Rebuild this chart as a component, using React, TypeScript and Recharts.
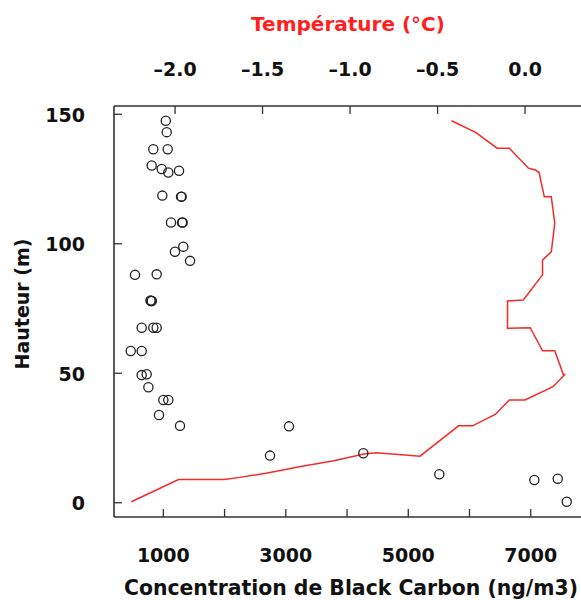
import React from 'react';
import { ScatterChart, Scatter, XAxis, YAxis } from 'recharts';

// black carbon profile (ng/m3 vs m)
const bcHeights = [
  147.5, 143.1, 136.5, 136.5, 130.2, 128.9, 127.5, 128.2, 118.6, 118.2, 118.2,
  108.2, 108.2, 108.2, 98.9, 96.9, 93.4, 88.0, 88.2, 77.9, 77.9, 78.1, 67.6, 67.6,
  67.6, 58.6, 58.6, 49.3, 49.6, 44.6, 39.7, 39.7, 33.9, 29.7, 29.5, 18.2, 19.1,
  11.0, 8.8, 9.3, 0.4,
];
const bcValues = [
  1040, 1055, 836, 1071, 810, 973, 1081, 1256, 983, 1289, 1300,
  1125, 1316, 1305, 1326, 1190, 1436, 537, 891, 799, 812, 790, 646, 836,
  891, 467, 646, 646, 728, 755, 1000, 1081, 929, 1272, 3052, 2742, 4266,
  5507, 7059, 7441, 7588,
];

// temperature profile (°C vs m)
const tempHeights = [
  0.4, 9.0, 9.0, 9.8, 11.4, 13.9, 16.1, 18.8, 19.3, 18.0, 29.7, 29.7, 34.1, 39.7,
  39.7, 44.8, 49.7, 49.3, 58.7, 58.7, 67.6, 67.4, 77.9, 78.3, 88.0, 93.7, 96.9,
  107.9, 118.2, 118.2, 127.5, 128.5, 129.2, 136.9, 136.9, 142.9, 147.5,
];
const tempValues = [
  -2.25, -1.98, -1.72, -1.63, -1.48, -1.29, -1.1, -0.92, -0.85, -0.6, -0.38, -0.3,
  -0.17, -0.09, 0.0, 0.16, 0.23, 0.22, 0.17, 0.1, 0.03, -0.1, -0.1, -0.01, 0.1,
  0.1, 0.15, 0.17, 0.15, 0.11, 0.08, 0.06, 0.02, -0.09, -0.16, -0.28, -0.42,
];

const bcTicks = [1000, 2000, 3000, 4000, 5000, 6000, 7000];
const bcLabelled = [1000, 3000, 5000, 7000];
const tempTicks = [-2, -1.5, -1, -0.5, 0];
const heightTicks = [0, 50, 100, 150];

const bcData = bcHeights.map((h, i) => ({ x: bcValues[i], y: h }));
const tempData = tempHeights.map((h, i) => ({ x: tempValues[i], y: h }));

const FONT = "'DejaVu Sans', sans-serif";
const AXIS = '#333';
const RED = '#f52a2a';

const BottomTick = (props: any) => {
  const { x, payload } = props;
  if (!bcLabelled.includes(payload.value)) return <g />;
  return (
    <text x={x} y={562} textAnchor="middle" fontFamily={FONT} fontWeight="bold" fontSize={19} fill="#111">
      {payload.value}
    </text>
  );
};

const TopTick = (props: any) => {
  const { x, payload } = props;
  const v = payload.value;
  const s = (v < 0 ? '\u2013' : '') + Math.abs(v).toFixed(1);
  return (
    <text x={x} y={76} textAnchor="middle" fontFamily={FONT} fontWeight="bold" fontSize={19} fill="#111">
      {s}
    </text>
  );
};

const LeftTick = (props: any) => {
  const { y, payload } = props;
  return (
    <text x={85} y={y + 7.5} textAnchor="end" fontFamily={FONT} fontWeight="bold" fontSize={19} fill="#111">
      {payload.value}
    </text>
  );
};

const Ring = (props: any) => (
  <circle cx={props.cx} cy={props.cy} r={4.6} fill="none" stroke="#222" strokeWidth={1.3} />
);

export default function App() {
  return (
    <div style={{ position: 'fixed', left: 0, top: 0, width: 581, height: 600, overflow: 'hidden', background: '#fff' }}>
      <ScatterChart width={620} height={600} margin={{ top: 0, right: 36, bottom: 0, left: 0 }}>
        <XAxis
          xAxisId="bc"
          type="number"
          dataKey="x"
          orientation="bottom"
          domain={[194, 7870]}
          allowDataOverflow
          ticks={bcTicks}
          height={83}
          tickSize={-8}
          tick={<BottomTick />}
          axisLine={{ stroke: AXIS, strokeWidth: 1.6 }}
          tickLine={{ stroke: AXIS, strokeWidth: 1.3 }}
        />
        <XAxis
          xAxisId="t"
          type="number"
          dataKey="x"
          orientation="top"
          domain={[-2.349, 0.337]}
          allowDataOverflow
          ticks={tempTicks}
          height={106}
          tickSize={-8}
          tick={<TopTick />}
          axisLine={{ stroke: AXIS, strokeWidth: 1.6 }}
          tickLine={{ stroke: AXIS, strokeWidth: 1.3 }}
        />
        <YAxis
          type="number"
          dataKey="y"
          domain={[-5.5, 153.2]}
          allowDataOverflow
          ticks={heightTicks}
          width={114}
          tickSize={-8}
          tick={<LeftTick />}
          axisLine={{ stroke: AXIS, strokeWidth: 1.6 }}
          tickLine={{ stroke: AXIS, strokeWidth: 1.3 }}
        />
        <Scatter
          data={tempData}
          xAxisId="t"
          line={{ stroke: RED, strokeWidth: 1.5 }}
          lineType="joint"
          shape={() => <g />}
          isAnimationActive={false}
        />
        <Scatter data={bcData} xAxisId="bc" shape={<Ring />} isAnimationActive={false} />
        <text x={348} y={31} textAnchor="middle" fontFamily={FONT} fontWeight="bold" fontSize={20} fill="#ff1f1f">
          Température (°C)
        </text>
        <text x={351} y={595} textAnchor="middle" fontFamily={FONT} fontWeight="bold" fontSize={20.4} fill="#111">
          Concentration de Black Carbon (ng/m3)
        </text>
        <text
          x={29}
          y={304}
          textAnchor="middle"
          transform="rotate(-90 29 304)"
          fontFamily={FONT}
          fontWeight="bold"
          fontSize={19}
          fill="#111"
        >
          Hauteur (m)
        </text>
      </ScatterChart>
    </div>
  );
}
